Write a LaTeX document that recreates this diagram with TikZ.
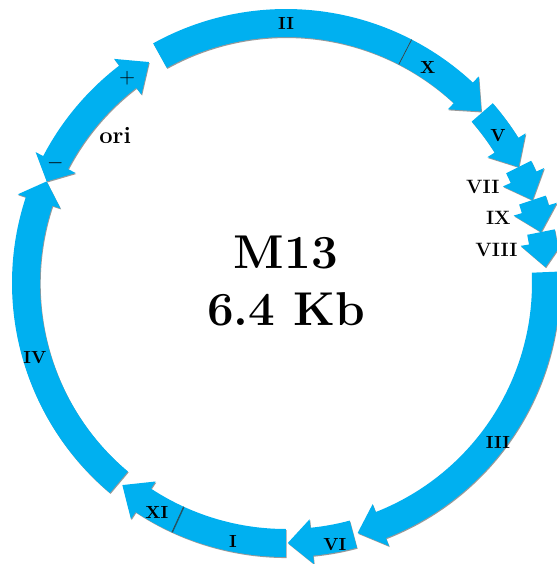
\documentclass[tikz,border=0pt]{standalone}
\usetikzlibrary{shadows}
\definecolor{geneblue}{HTML}{00B0F0}

% arc arrow: start angle, head base angle, tip angle
\newcommand{\genearrow}[3]{%
  \fill[gene] (#1:5.48) arc[start angle=#1, end angle=#2, radius=5.48]
    -- (#2:5.65) -- (#3:5.2) -- (#2:4.75) -- (#2:4.92)
    arc[start angle=#2, end angle=#1, radius=4.92] -- cycle;}
% arc block without head
\newcommand{\geneblock}[2]{%
  \fill[gene] (#1:5.48) arc[start angle=#1, end angle=#2, radius=5.48]
    -- (#2:4.92) arc[start angle=#2, end angle=#1, radius=4.92] -- cycle;}

\begin{document}
\begin{tikzpicture}[
    gene/.style ={fill=geneblue, drop shadow={shadow xshift=0.4pt, shadow yshift=-0.6pt, opacity=0.4, fill=black}},
    genelabel/.style ={font=\bfseries\fontsize{10}{12}\selectfont, inner sep=0pt},
    sidelabel/.style ={font=\bfseries\fontsize{11}{13}\selectfont, inner sep=0pt},
    bigtitle/.style ={font=\bfseries\fontsize{27}{32}\selectfont, inner sep=0pt, anchor=base}]
   \useasboundingbox (-5.72,-5.62) rectangle (5.42,5.66);
   \clip (-5.72,-5.62) rectangle (5.42,5.66);

   % genes, clockwise
   \geneblock{119}{62.7}
   \genearrow{62.7}{47}{41.3}
   \genearrow{41}{32}{26.5}
   \genearrow{26.5}{24}{18.6}
   \genearrow{18.6}{16.5}{11.3}
   \genearrow{11.3}{9}{3.5}
   \genearrow{2.4}{-68.6}{-74}
   \genearrow{-75}{-84.3}{-89.6}
   \geneblock{-90}{-114.6}
   \genearrow{-114.6}{-123.3}{-129}
   \genearrow{230}{161.7}{157}

   % ori, both ways
   \fill[gene] (127.5:5.48) arc[start angle=127.5, end angle=152.4, radius=5.48]
     -- (152.4:5.65) -- (157:5.2) -- (152.4:4.75) -- (152.4:4.92)
     arc[start angle=152.4, end angle=127.5, radius=4.92]
     -- (127.5:4.75) -- (121.8:5.2) -- (127.5:5.65) -- cycle;

   % borders II/X and I/XI
   \draw[black!75, thin] (62.7:4.92) -- (62.7:5.48);
   \draw[black!75, thin] (-114.6:4.92) -- (-114.6:5.48);

   \node[genelabel] (II) at (90:5.2) {II};
   \node[genelabel] (X) at (56.7:5.16) {X};
   \node[genelabel] (V) at (34.9:5.17) {V};
   \node[sidelabel] (VII) at (26:4.38) {VII};
   \node[sidelabel] (IX) at (17:4.44) {IX};
   \node[sidelabel] (VIII) at (8.9:4.26) {VIII};
   \node[genelabel] (III) at (-36.9:5.3) {III};
   \node[genelabel] (VI) at (-79.4:5.32) {VI};
   \node[genelabel] (I) at (-101.6:5.28) {I};
   \node[genelabel] (XI) at (-119.4:5.26) {XI};
   \node[genelabel] (IV) at (196.6:5.24) {IV};
   \node[font=\bfseries\fontsize{13}{15}\selectfont] (plus) at (127.8:5.18) {$+$};
   \node[font=\bfseries\fontsize{13}{15}\selectfont] (minus) at (152.5:5.2) {$-$};
   \node[font=\bfseries\fontsize{13.5}{16}\selectfont] (ori) at (139.1:4.52) {ori};

   \node[bigtitle] (name) at (0,0.3) {M13};
   \node[bigtitle] (size) at (0,-0.84) {6.4 Kb};
\end{tikzpicture}
\end{document}
